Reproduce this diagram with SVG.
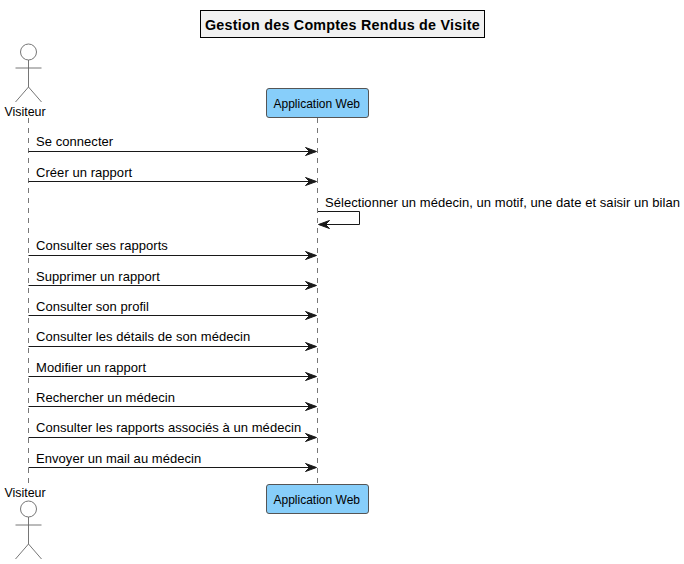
<svg xmlns="http://www.w3.org/2000/svg" width="684" height="564" viewBox="0 0 684 564">
<style>
text{font-family:"Liberation Sans",Arial,sans-serif;fill:#000}
.m{font-size:13px;letter-spacing:.05px}
.a{font-size:12.400px}
.p{font-size:12px}
.life{stroke:#777;stroke-width:1;stroke-dasharray:5 5;fill:none}
.msg{stroke:#181818;stroke-width:1;fill:none}
.head{fill:#181818;stroke:#181818;stroke-width:1}
.actor{fill:none;stroke:#666;stroke-width:.9}
.box{fill:#87CEFA;stroke:#555;stroke-width:1}
</style>
<defs>
<g id="stick"><circle cx="28.500" cy="0" r="8" fill="#fff" stroke="#666" stroke-width=".9"/><path class="actor" d="M28.500 8V35M15.500 16H41.500M28.500 35L15.500 50M28.500 35L41.500 50"/></g>
<path id="ah" class="head" d="M0 0L-11 -4L-7 0L-11 4Z"/>
</defs>
<rect width="684" height="564" fill="#fff"/>
<g id="title"><rect x="200.500" y="10.500" width="284" height="27" fill="#f1f1f1" stroke="#000" stroke-width="1"/><text x="205" y="30" font-size="14.300" font-weight="bold" letter-spacing=".25">Gestion des Comptes Rendus de Visite</text></g>
<g id="lifelines"><path class="life" d="M28.500 118V484"/><path class="life" d="M317.500 118V484"/></g>
<g id="connectors">
<path class="msg" d="M28.500 151.500H316"/><use href="#ah" x="316.500" y="151.500"/>
<path class="msg" d="M28.500 181.500H316"/><use href="#ah" x="316.500" y="181.500"/>
<path class="msg" d="M318 211.500H359.500V224.500H319"/><use href="#ah" transform="translate(318.500 224.500) rotate(180)"/>
<path class="msg" d="M28.500 255.500H316"/><use href="#ah" x="316.500" y="255.500"/>
<path class="msg" d="M28.500 285.500H316"/><use href="#ah" x="316.500" y="285.500"/>
<path class="msg" d="M28.500 315.500H316"/><use href="#ah" x="316.500" y="315.500"/>
<path class="msg" d="M28.500 346.500H316"/><use href="#ah" x="316.500" y="346.500"/>
<path class="msg" d="M28.500 376.500H316"/><use href="#ah" x="316.500" y="376.500"/>
<path class="msg" d="M28.500 406.500H316"/><use href="#ah" x="316.500" y="406.500"/>
<path class="msg" d="M28.500 437.500H316"/><use href="#ah" x="316.500" y="437.500"/>
<path class="msg" d="M28.500 467.500H316"/><use href="#ah" x="316.500" y="467.500"/>
</g>
<g id="labels" class="m">
<text x="36" y="146">Se connecter</text>
<text x="36" y="177">Créer un rapport</text>
<text x="325" y="207">Sélectionner un médecin, un motif, une date et saisir un bilan</text>
<text x="36" y="250">Consulter ses rapports</text>
<text x="36" y="281">Supprimer un rapport</text>
<text x="36" y="311">Consulter son profil</text>
<text x="36" y="341">Consulter les détails de son médecin</text>
<text x="36" y="372">Modifier un rapport</text>
<text x="36" y="402">Rechercher un médecin</text>
<text x="36" y="432">Consulter les rapports associés à un médecin</text>
<text x="36" y="463">Envoyer un mail au médecin</text>
</g>
<g id="actor-top"><use href="#stick" y="52"/><text class="a" x="4.500" y="116">Visiteur</text></g>
<g id="app-top"><rect class="box" x="266.500" y="88.500" width="102" height="29" rx="2.500"/><text class="p" x="273.500" y="108">Application Web</text></g>
<g id="actor-bottom"><text class="a" x="4.500" y="497">Visiteur</text><use href="#stick" y="509"/></g>
<g id="app-bottom"><rect class="box" x="266.500" y="484.500" width="102" height="29" rx="2.500"/><text class="p" x="273.500" y="504">Application Web</text></g>
</svg>
